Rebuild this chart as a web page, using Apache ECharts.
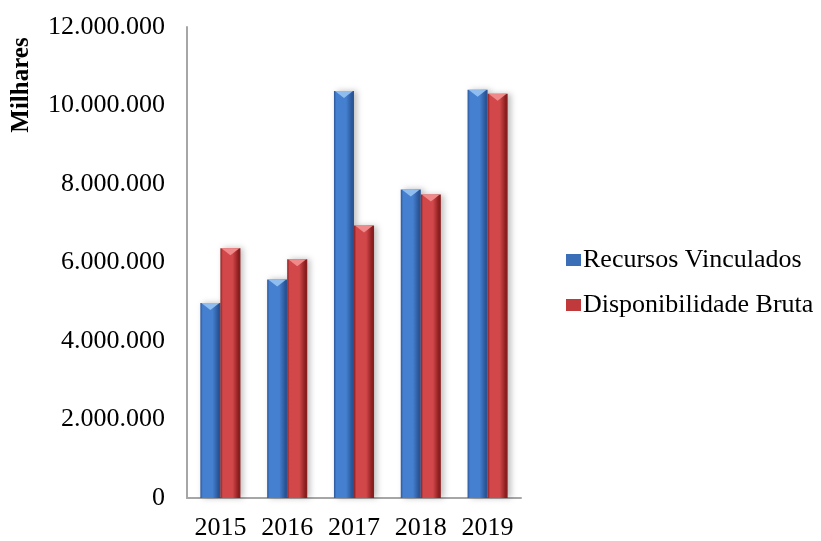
<!DOCTYPE html>
<html>
<head>
<meta charset="utf-8">
<script src="https://cdn.jsdelivr.net/npm/echarts@6/dist/echarts.min.js"></script>
<style>
  html, body { margin: 0; padding: 0; background: #fff; }
  #chart { width: 821px; height: 541px; }
</style>
</head>
<body>
<div id="chart"></div>
<script>
var anos = ['2015', '2016', '2017', '2018', '2019'];
var recursosVinculados = [4970000, 5570000, 10370000, 7860000, 10400000];
var disponibilidadeBruta = [6360000, 6080000, 6940000, 7730000, 10300000];
var nomes = ['Recursos Vinculados', 'Disponibilidade Bruta'];

var fonte = '"Liberation Serif", "Times New Roman", serif';

// cores: borda escura, meio, claro (triangulo do topo)
var cores = [
    { edge: '#2a5597', mid: '#4580d0', light: '#8fbdf0', legend: '#3a6fb8' },
    { edge: '#8a1e1f', mid: '#d2484a', light: '#f08a8a', legend: '#c0393b' }
];

function pontos(v) {
    return String(v).replace(/\B(?=(\d{3})+(?!\d))/g, '.');
}

function desenhaBarra(idx) {
    return function (params, api) {
        var topo = api.coord([api.value(0), api.value(1)]);
        var base = api.coord([api.value(0), 0]);
        var banda = api.size([1, 0])[0];
        var w = banda * 0.30;
        var x = idx === 0 ? topo[0] - w : topo[0];
        var y = topo[1];
        var h = base[1] - y;
        var c = cores[idx];
        var tri = Math.min(7, h);
        return {
            type: 'group',
            children: [
                {
                    type: 'rect',
                    shape: { x: x, y: y, width: w, height: h },
                    style: {
                        fill: new echarts.graphic.LinearGradient(0, 0, 1, 0, [
                            { offset: 0, color: c.edge },
                            { offset: 0.12, color: c.mid },
                            { offset: 0.6, color: c.mid },
                            { offset: 0.9, color: c.edge },
                            { offset: 1, color: c.edge }
                        ]),
                        shadowBlur: 6,
                        shadowOffsetX: 3,
                        shadowColor: 'rgba(0,0,0,0.25)'
                    }
                },
                {
                    type: 'polygon',
                    shape: { points: [[x + 1, y], [x + w - 1, y], [x + w / 2, y + tri]] },
                    style: { fill: c.light }
                }
            ]
        };
    };
}

var chartDom = document.getElementById('chart');
var myChart = echarts.init(chartDom);
var option;

option = {
    animation: false,
    backgroundColor: '#fff',
    grid: { left: 187, right: 300, top: 27, bottom: 42 },
    legend: {
        orient: 'vertical',
        left: 561,
        top: 242,
        itemWidth: 15,
        itemHeight: 12,
        itemGap: 19,
        icon: 'rect',
        textStyle: { fontFamily: fonte, fontSize: 26, color: '#000', padding: [0, 0, 0, -3] },
        data: nomes
    },
    graphic: [
        {
            type: 'text',
            x: 22,
            y: 85,
            rotation: Math.PI / 2,
            style: {
                text: 'Milhares',
                font: 'bold 25px ' + fonte,
                fill: '#000',
                align: 'center',
                verticalAlign: 'middle'
            }
        }
    ],
    xAxis: {
        type: 'category',
        data: anos,
        axisLine: { lineStyle: { color: '#a6a6a6', width: 2 } },
        axisTick: { show: false },
        axisLabel: { interval: 0, hideOverlap: false, fontFamily: fonte, fontSize: 26, color: '#000', margin: 17 }
    },
    yAxis: {
        type: 'value',
        min: 0,
        max: 12000000,
        interval: 2000000,
        axisLine: { show: true, lineStyle: { color: '#a6a6a6', width: 2 } },
        axisTick: { show: false },
        splitLine: { show: false },
        axisLabel: {
            fontFamily: fonte, fontSize: 26, color: '#000', margin: 22,
            formatter: pontos
        }
    },
    series: [
        {
            name: nomes[0],
            type: 'custom',
            renderItem: desenhaBarra(0),
            itemStyle: { color: cores[0].legend },
            encode: { x: 0, y: 1 },
            data: anos.map(function (a, i) { return [i, recursosVinculados[i]]; })
        },
        {
            name: nomes[1],
            type: 'custom',
            renderItem: desenhaBarra(1),
            itemStyle: { color: cores[1].legend },
            encode: { x: 0, y: 1 },
            data: anos.map(function (a, i) { return [i, disponibilidadeBruta[i]]; })
        }
    ]
};
option && myChart.setOption(option);
</script>
</body>
</html>
